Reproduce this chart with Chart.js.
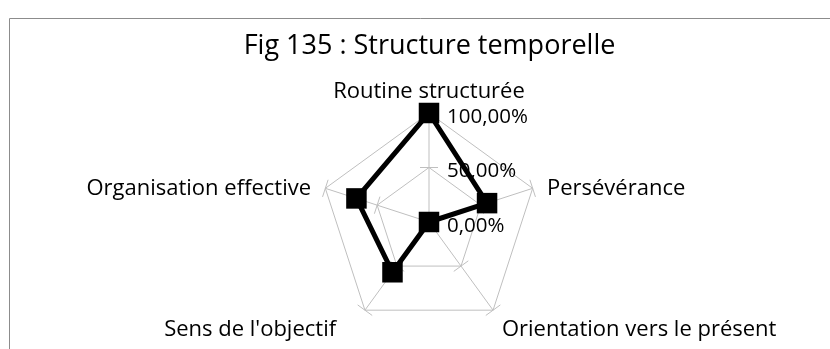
<!DOCTYPE html>
<html>
<head>
<meta charset="utf-8">
<script src="https://cdn.jsdelivr.net/npm/chart.js@4/dist/chart.umd.min.js"></script>
<style>
  html, body { margin: 0; padding: 0; background: #fff; }
  #wrap { width: 830px; height: 349px; }
</style>
</head>
<body>
<div id="wrap"><canvas id="radar" width="830" height="349"></canvas></div>
<script>
const categories = [
  "Routine structurée",
  "Persévérance",
  "Orientation vers le présent",
  "Sens de l'objectif",
  "Organisation effective"
];
const seriesValues = [100, 56, 0, 57, 70];
const tickValues = [0, 50, 100];
const tickLabels = ["0,00%", "50,00%", "100,00%"];

const FONT = "'Open Sans', 'Noto Sans', sans-serif";
const GRID = "#bfbfbf";

// frame of the chart box (only top-left corner is in view)
const framePlugin = {
  id: "frame",
  beforeDraw(chart) {
    const ctx = chart.ctx;
    ctx.save();
    ctx.strokeStyle = "#8c8c8c";
    ctx.lineWidth = 1;
    ctx.beginPath();
    ctx.moveTo(9.5, chart.height + 2);
    ctx.lineTo(9.5, 18.5);
    ctx.lineTo(chart.width + 2, 18.5);
    ctx.stroke();
    ctx.restore();
  }
};

// little cross tick marks on every spoke, like Excel does
const spokeTicks = {
  id: "spokeTicks",
  beforeDatasetsDraw(chart) {
    const scale = chart.scales.r;
    const ctx = chart.ctx;
    const half = 9;
    ctx.save();
    ctx.strokeStyle = GRID;
    ctx.lineWidth = 1;
    tickValues.forEach(v => {
      if (v === 0) return;
      const d = scale.getDistanceFromCenterForValue(v);
      categories.forEach((c, i) => {
        const p = scale.getPointPosition(i, d);
        const a = p.angle + Math.PI / 2;
        const dx = Math.cos(a) * half, dy = Math.sin(a) * half;
        ctx.beginPath();
        ctx.moveTo(p.x - dx, p.y - dy);
        ctx.lineTo(p.x + dx, p.y + dy);
        ctx.stroke();
      });
    });
    ctx.restore();
  }
};

// value labels to the right of the vertical axis and category labels
const labelsPlugin = {
  id: "labels",
  afterDraw(chart) {
    const scale = chart.scales.r;
    const ctx = chart.ctx;
    const cx = scale.xCenter, cy = scale.yCenter;
    ctx.save();
    ctx.fillStyle = "#000";

    ctx.font = "20.5px " + FONT;
    ctx.textAlign = "left";
    ctx.textBaseline = "middle";
    tickValues.forEach((v, k) => {
      const d = scale.getDistanceFromCenterForValue(v);
      ctx.fillText(tickLabels[k], cx + 18, cy - d + 4);
    });

    ctx.font = "22px " + FONT;
    const R = scale.drawingArea;
    categories.forEach((label, i) => {
      const p = scale.getPointPosition(i, R + 15);
      const v = scale.getPointPosition(i, R);
      const dx = p.x - cx;
      if (Math.abs(dx) < 1) {
        ctx.textAlign = "center";
        ctx.textBaseline = "alphabetic";
        ctx.fillText(label, p.x, p.y);
      } else if (v.y < cy) {
        ctx.textAlign = dx > 0 ? "left" : "right";
        ctx.textBaseline = "middle";
        ctx.fillText(label, p.x, v.y);
      } else {
        // Excel pushes the lower-left label further out than the lower-right one
        ctx.textAlign = dx > 0 ? "left" : "right";
        ctx.textBaseline = "top";
        ctx.fillText(label, dx > 0 ? p.x : p.x - 20, v.y + 9);
      }
    });
    ctx.restore();
  }
};

new Chart(document.getElementById("radar"), {
  type: "radar",
  data: {
    labels: categories,
    datasets: [{
      label: "Structure temporelle",
      data: seriesValues,
      borderColor: "#000",
      borderWidth: 5,
      backgroundColor: "rgba(0,0,0,0)",
      fill: false,
      pointStyle: "rect",
      pointRadius: 14.5,
      pointHoverRadius: 14.5,
      pointBackgroundColor: "#000",
      pointBorderWidth: 0
    }]
  },
  options: {
    responsive: false,
    animation: false,
    events: [],
    layout: { padding: { left: 29, right: 0, top: 0, bottom: 17 } },
    plugins: {
      legend: { display: false },
      tooltip: { enabled: false },
      title: {
        display: true,
        text: "Fig 135 : Structure temporelle",
        color: "#000",
        font: { family: FONT, size: 27, weight: "normal" },
        padding: { top: 30, bottom: 50 }
      }
    },
    scales: {
      r: {
        min: 0,
        max: 100,
        ticks: { stepSize: 50, display: false },
        grid: { color: GRID, lineWidth: 1 },
        angleLines: { color: GRID, lineWidth: 1 },
        pointLabels: { display: false }
      }
    }
  },
  plugins: [framePlugin, spokeTicks, labelsPlugin]
});
</script>
</body>
</html>
